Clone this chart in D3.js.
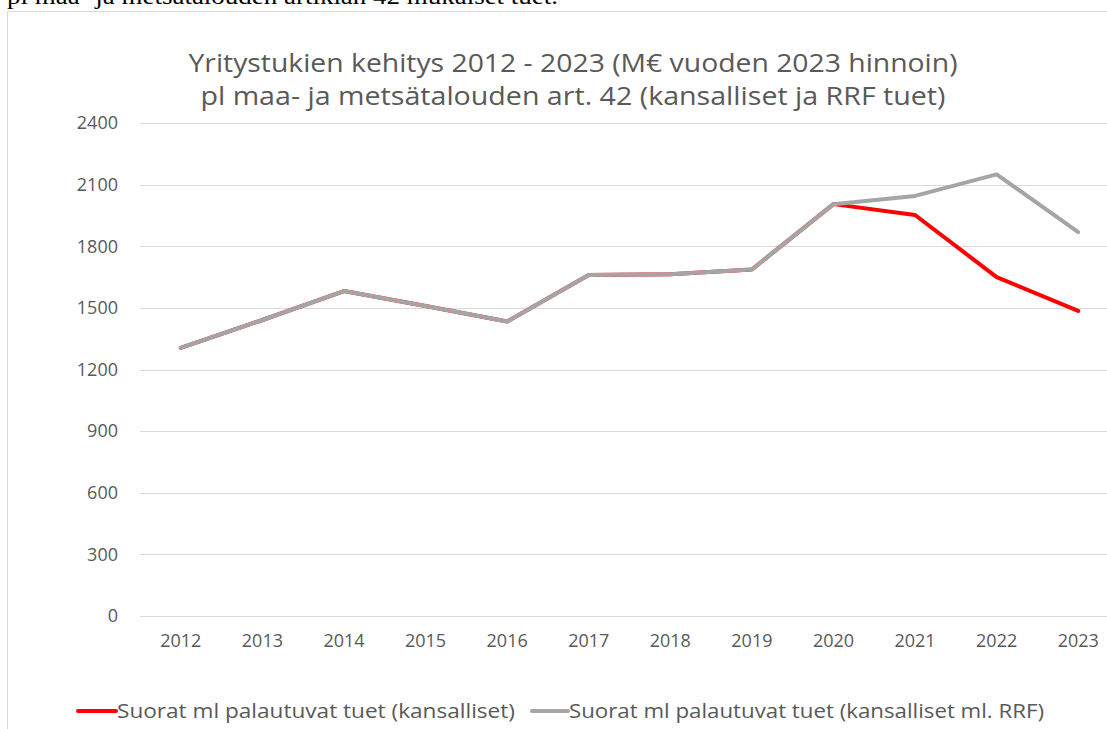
<!DOCTYPE html>
<html>
<head>
<meta charset="utf-8">
<script src="https://cdn.jsdelivr.net/npm/d3@7"></script>
<style>
  html, body { margin: 0; padding: 0; background: #fff; overflow: hidden; }
  svg { display: block; }
</style>
</head>
<body>
<script>
// data
const years = ['2012', '2013', '2014', '2015', '2016', '2017', '2018', '2019', '2020', '2021', '2022', '2023']
const kansalliset = [1305, 1441, 1582, 1509, 1434, 1660, 1664, 1687, 2005, 1952, 1650, 1485]
const kansallisetRRF = [1305, 1441, 1582, 1509, 1434, 1660, 1664, 1687, 2005, 2045, 2150, 1869]
const yTicks = [0, 300, 600, 900, 1200, 1500, 1800, 2100, 2400]
const seriesNames = ['Suorat ml palautuvat tuet (kansalliset)', 'Suorat ml palautuvat tuet (kansalliset ml. RRF)']
const titleLines = ['Yritystukien kehitys 2012 - 2023 (M€ vuoden 2023 hinnoin)', 'pl maa- ja metsätalouden art. 42 (kansalliset ja RRF tuet)']
const topText = 'pl maa- ja metsätalouden artiklan 42 mukaiset tuet.'

const width = 1107
const height = 729
const red = '#ff0000'
const gray = '#a5a5a5'
const textGray = '#595959'
const gridGray = '#d9d9d9'
const font = '"Open Sans", "Noto Sans", sans-serif'

const plot = {left: 140, right: 1119, top: 123, bottom: 616}

const svg = d3.select('body').append('svg')
    .attr('width', width)
    .attr('height', height)

// cut-off line of the document text above the chart (only its lower part shows)
svg.append('text')
    .attr('x', 7)
    .attr('y', 4)
    .attr('font-family', '"Liberation Serif", "Times New Roman", serif')
    .attr('font-size', '24px')
    .attr('fill', '#000')
    .attr('textLength', 551)
    .attr('lengthAdjust', 'spacingAndGlyphs')
    .text(topText)

// chart frame (right and bottom edges fall outside the picture)
svg.append('rect')
    .attr('x', 7.5)
    .attr('y', 11.5)
    .attr('width', 1200)
    .attr('height', 800)
    .attr('fill', '#fff')
    .attr('stroke', gridGray)
    .attr('stroke-width', 1)

const x = d3.scaleBand()
    .domain(years)
    .range([plot.left, plot.right])
    .padding(0)

const y = d3.scaleLinear()
    .domain([0, 2400])
    .range([plot.bottom, plot.top])

// gridlines
svg.append('g')
    .selectAll('line')
    .data(yTicks)
    .join('line')
    .attr('x1', plot.left)
    .attr('x2', plot.right)
    .attr('y1', d => Math.round(y(d)) + 0.5)
    .attr('y2', d => Math.round(y(d)) + 0.5)
    .attr('stroke', gridGray)
    .attr('stroke-width', 1)

// y axis labels
const yAxis = svg.append('g')
    .attr('transform', `translate(${plot.left}, 0)`)
    .call(d3.axisLeft(y).tickValues(yTicks).tickFormat(d3.format('d')).tickSize(0).tickPadding(22))
yAxis.select('.domain').remove()
yAxis.selectAll('text')
    .attr('font-family', font)
    .attr('font-size', '18px')
    .attr('fill', textGray)

// x axis labels
const xAxis = svg.append('g')
    .attr('transform', `translate(0, ${plot.bottom})`)
    .call(d3.axisBottom(x).tickSize(0).tickPadding(18))
xAxis.select('.domain').remove()
xAxis.selectAll('text')
    .attr('font-family', font)
    .attr('font-size', '18px')
    .attr('fill', textGray)

// lines, gray over red
const line = d3.line()
    .x((d, i) => x(years[i]) + x.bandwidth() / 2)
    .y(d => y(d))

svg.append('path')
    .datum(kansalliset)
    .attr('d', line)
    .attr('fill', 'none')
    .attr('stroke', red)
    .attr('stroke-width', 4)
    .attr('stroke-linejoin', 'round')
    .attr('stroke-linecap', 'round')

svg.append('path')
    .datum(kansallisetRRF)
    .attr('d', line)
    .attr('fill', 'none')
    .attr('stroke', gray)
    .attr('stroke-width', 4)
    .attr('stroke-linejoin', 'round')
    .attr('stroke-linecap', 'round')

// title
const titleWidths = [769, 745]
svg.append('g')
    .selectAll('text')
    .data(titleLines)
    .join('text')
    .attr('x', 573)
    .attr('y', (d, i) => 72 + i * 33)
    .attr('text-anchor', 'middle')
    .attr('font-family', font)
    .attr('font-size', '25px')
    .attr('fill', textGray)
    .attr('textLength', (d, i) => titleWidths[i])
    .attr('lengthAdjust', 'spacingAndGlyphs')
    .text(d => d)

// legend
const legendItems = [
    {name: seriesNames[0], color: red, x1: 78, x2: 116, tx: 117, tw: 398},
    {name: seriesNames[1], color: gray, x1: 532, x2: 568, tx: 569, tw: 475}
]
const legend = svg.append('g')
legend.selectAll('line')
    .data(legendItems)
    .join('line')
    .attr('x1', d => d.x1)
    .attr('x2', d => d.x2)
    .attr('y1', 711)
    .attr('y2', 711)
    .attr('stroke', d => d.color)
    .attr('stroke-width', 4)
    .attr('stroke-linecap', 'round')
legend.selectAll('text')
    .data(legendItems)
    .join('text')
    .attr('x', d => d.tx)
    .attr('y', 718)
    .attr('font-family', font)
    .attr('font-size', '20px')
    .attr('fill', textGray)
    .attr('textLength', d => d.tw)
    .attr('lengthAdjust', 'spacingAndGlyphs')
    .text(d => d.name)
</script>
</body>
</html>
